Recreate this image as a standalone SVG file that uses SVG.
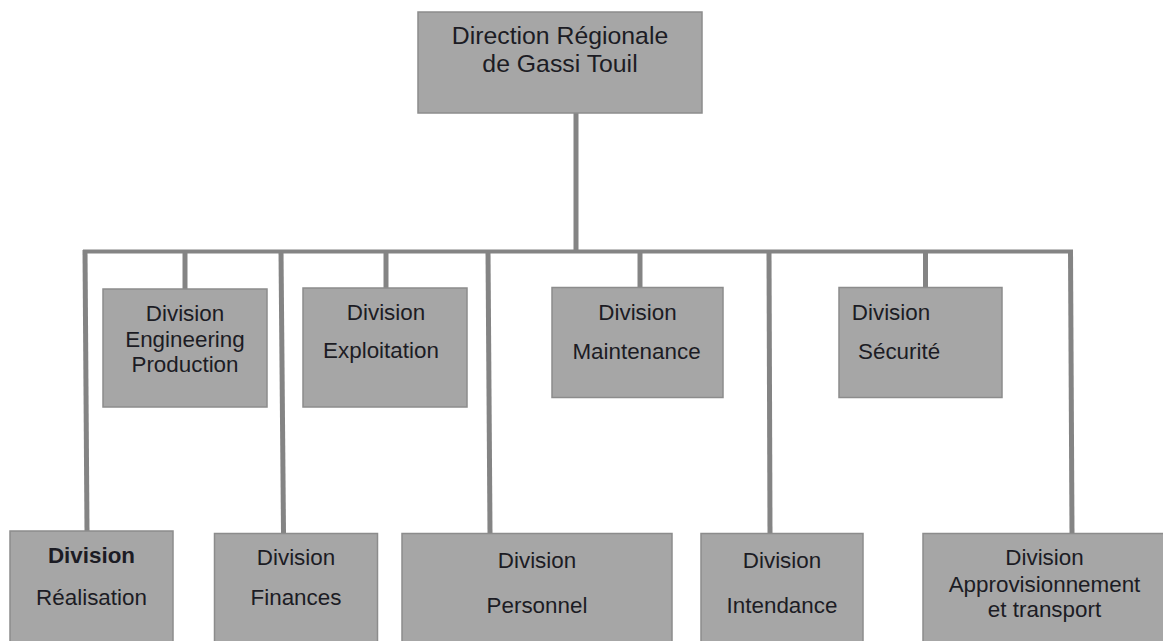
<svg xmlns="http://www.w3.org/2000/svg" width="1163" height="641" viewBox="0 0 1163 641">
<style>
.box{fill:#a6a6a6;stroke:#8c8c8c;stroke-width:1.5}
.t{font-family:"Liberation Sans",Arial,sans-serif;font-size:22.4px;fill:#1c1c24;text-anchor:middle}
.big{font-size:24.8px}
.b{font-weight:bold}
.ln{stroke:#848484;stroke-width:5;fill:none;stroke-linecap:butt}
.hb{stroke:#848484;stroke-width:4;fill:none}
</style>
<rect width="1163" height="641" fill="#ffffff"/>
<g id="connectors">
<line class="ln" x1="576" y1="113" x2="576" y2="252"/>
<polyline class="hb" points="85,254 85,251.5 1071,251.5 1071,254"/>
<line class="ln" x1="185" y1="251" x2="185" y2="289"/>
<line class="ln" x1="386" y1="251" x2="386" y2="288"/>
<line class="ln" x1="640" y1="251" x2="640" y2="287"/>
<line class="ln" x1="925.5" y1="251" x2="925.5" y2="287"/>
<line class="ln" x1="85" y1="250" x2="87" y2="531"/>
<line class="ln" x1="281" y1="251" x2="283.5" y2="533"/>
<line class="ln" x1="488" y1="251" x2="490" y2="533"/>
<line class="ln" x1="769" y1="251" x2="770" y2="533"/>
<line class="ln" x1="1070.5" y1="250" x2="1072" y2="533"/>
</g>
<g id="n-direction">
<rect class="box" x="418" y="12" width="284" height="101"/>
<text class="t big" x="560" y="44">Direction Régionale</text>
<text class="t big" x="560" y="72">de Gassi Touil</text>
</g>
<g id="n-engineering">
<rect class="box" x="103" y="289" width="164" height="118"/>
<text class="t" x="185" y="321">Division</text>
<text class="t" x="185" y="347">Engineering</text>
<text class="t" x="185" y="372">Production</text>
</g>
<g id="n-exploitation">
<rect class="box" x="303" y="288" width="164" height="119"/>
<text class="t" x="386" y="320">Division</text>
<text class="t" x="381" y="358">Exploitation</text>
</g>
<g id="n-maintenance">
<rect class="box" x="552" y="287.5" width="171" height="110"/>
<text class="t" x="637.5" y="320">Division</text>
<text class="t" x="636.5" y="359">Maintenance</text>
</g>
<g id="n-securite">
<rect class="box" x="839" y="287.5" width="163" height="110"/>
<text class="t" x="891" y="320">Division</text>
<text class="t" x="858" y="359" style="text-anchor:start">Sécurité</text>
</g>
<g id="n-realisation">
<rect class="box" x="10" y="531" width="163" height="130"/>
<text class="t b" x="91.5" y="563">Division</text>
<text class="t" x="91.5" y="605">Réalisation</text>
</g>
<g id="n-finances">
<rect class="box" x="214.5" y="533.5" width="163" height="130"/>
<text class="t" x="296" y="565">Division</text>
<text class="t" x="296" y="605">Finances</text>
</g>
<g id="n-personnel">
<rect class="box" x="402" y="533.5" width="270" height="130"/>
<text class="t" x="537" y="568">Division</text>
<text class="t" x="537" y="613">Personnel</text>
</g>
<g id="n-intendance">
<rect class="box" x="701" y="533.5" width="162" height="130"/>
<text class="t" x="782" y="568">Division</text>
<text class="t" x="782" y="613">Intendance</text>
</g>
<g id="n-approvisionnement">
<rect class="box" x="923" y="533.5" width="260" height="130"/>
<text class="t" x="1044.5" y="565">Division</text>
<text class="t" x="1044.5" y="592">Approvisionnement</text>
<text class="t" x="1044.5" y="617">et transport</text>
</g>
</svg>
